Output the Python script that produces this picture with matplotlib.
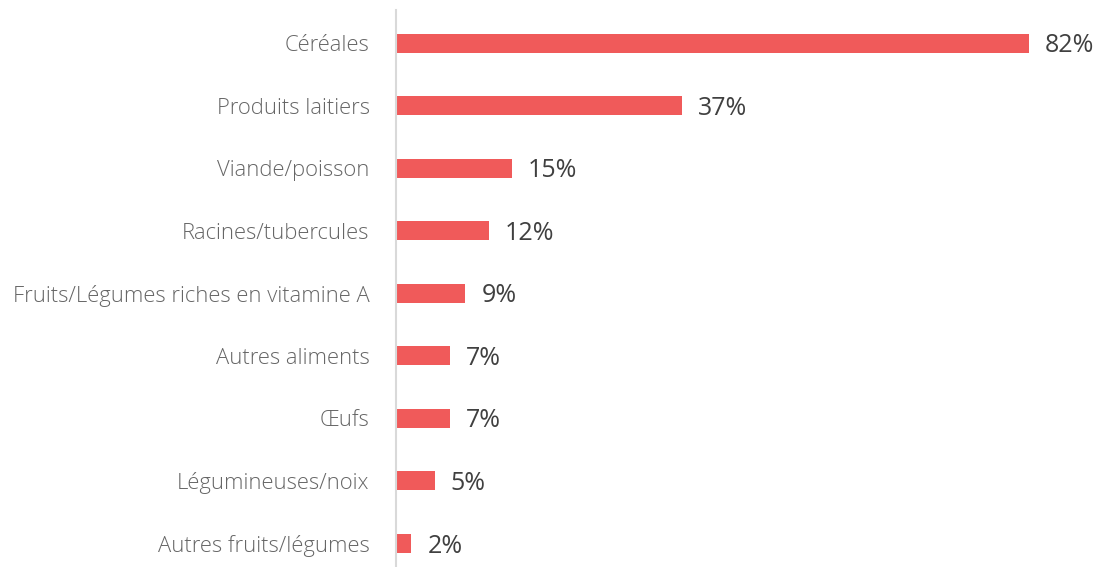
import matplotlib
matplotlib.use("Agg")
import matplotlib.pyplot as plt

categories = ["Céréales", "Produits laitiers", "Viande/poisson", "Racines/tubercules",
              "Fruits/Légumes riches en vitamine A", "Autres aliments", "Œufs",
              "Légumineuses/noix", "Autres fruits/légumes"]
values = [82, 37, 15, 12, 9, 7, 7, 5, 2]

plt.rcParams['font.family'] = ['Open Sans', 'DejaVu Sans']

fig = plt.figure(figsize=(10.99, 5.67), dpi=100)
ax = fig.add_axes([396/1099, 0, 1 - 396/1099, 557/567])

y = list(range(len(categories)))
ax.barh(y, values, height=0.3, color="#F05A5A")
ax.set_ylim(len(categories) - 1 + 0.38, -0.53)
ax.set_xlim(0, 91.06)
ax.set_yticks(y)
ax.set_yticklabels(categories, fontsize=15.8, color="#666666", fontweight="light")
ax.tick_params(axis='y', length=0, pad=19)
ax.set_xticks([])
for s in ["top", "right", "bottom"]:
    ax.spines[s].set_visible(False)
ax.spines["left"].set_color("#D9D9D9")
ax.spines["left"].set_linewidth(1.5)

for yi, v in zip(y, values):
    ax.annotate(f"{v}%", xy=(v, yi), xytext=(11.5, -2), textcoords="offset points",
                va="center", ha="left", fontsize=18, color="#404040")

fig.savefig("out.png", dpi=100)
